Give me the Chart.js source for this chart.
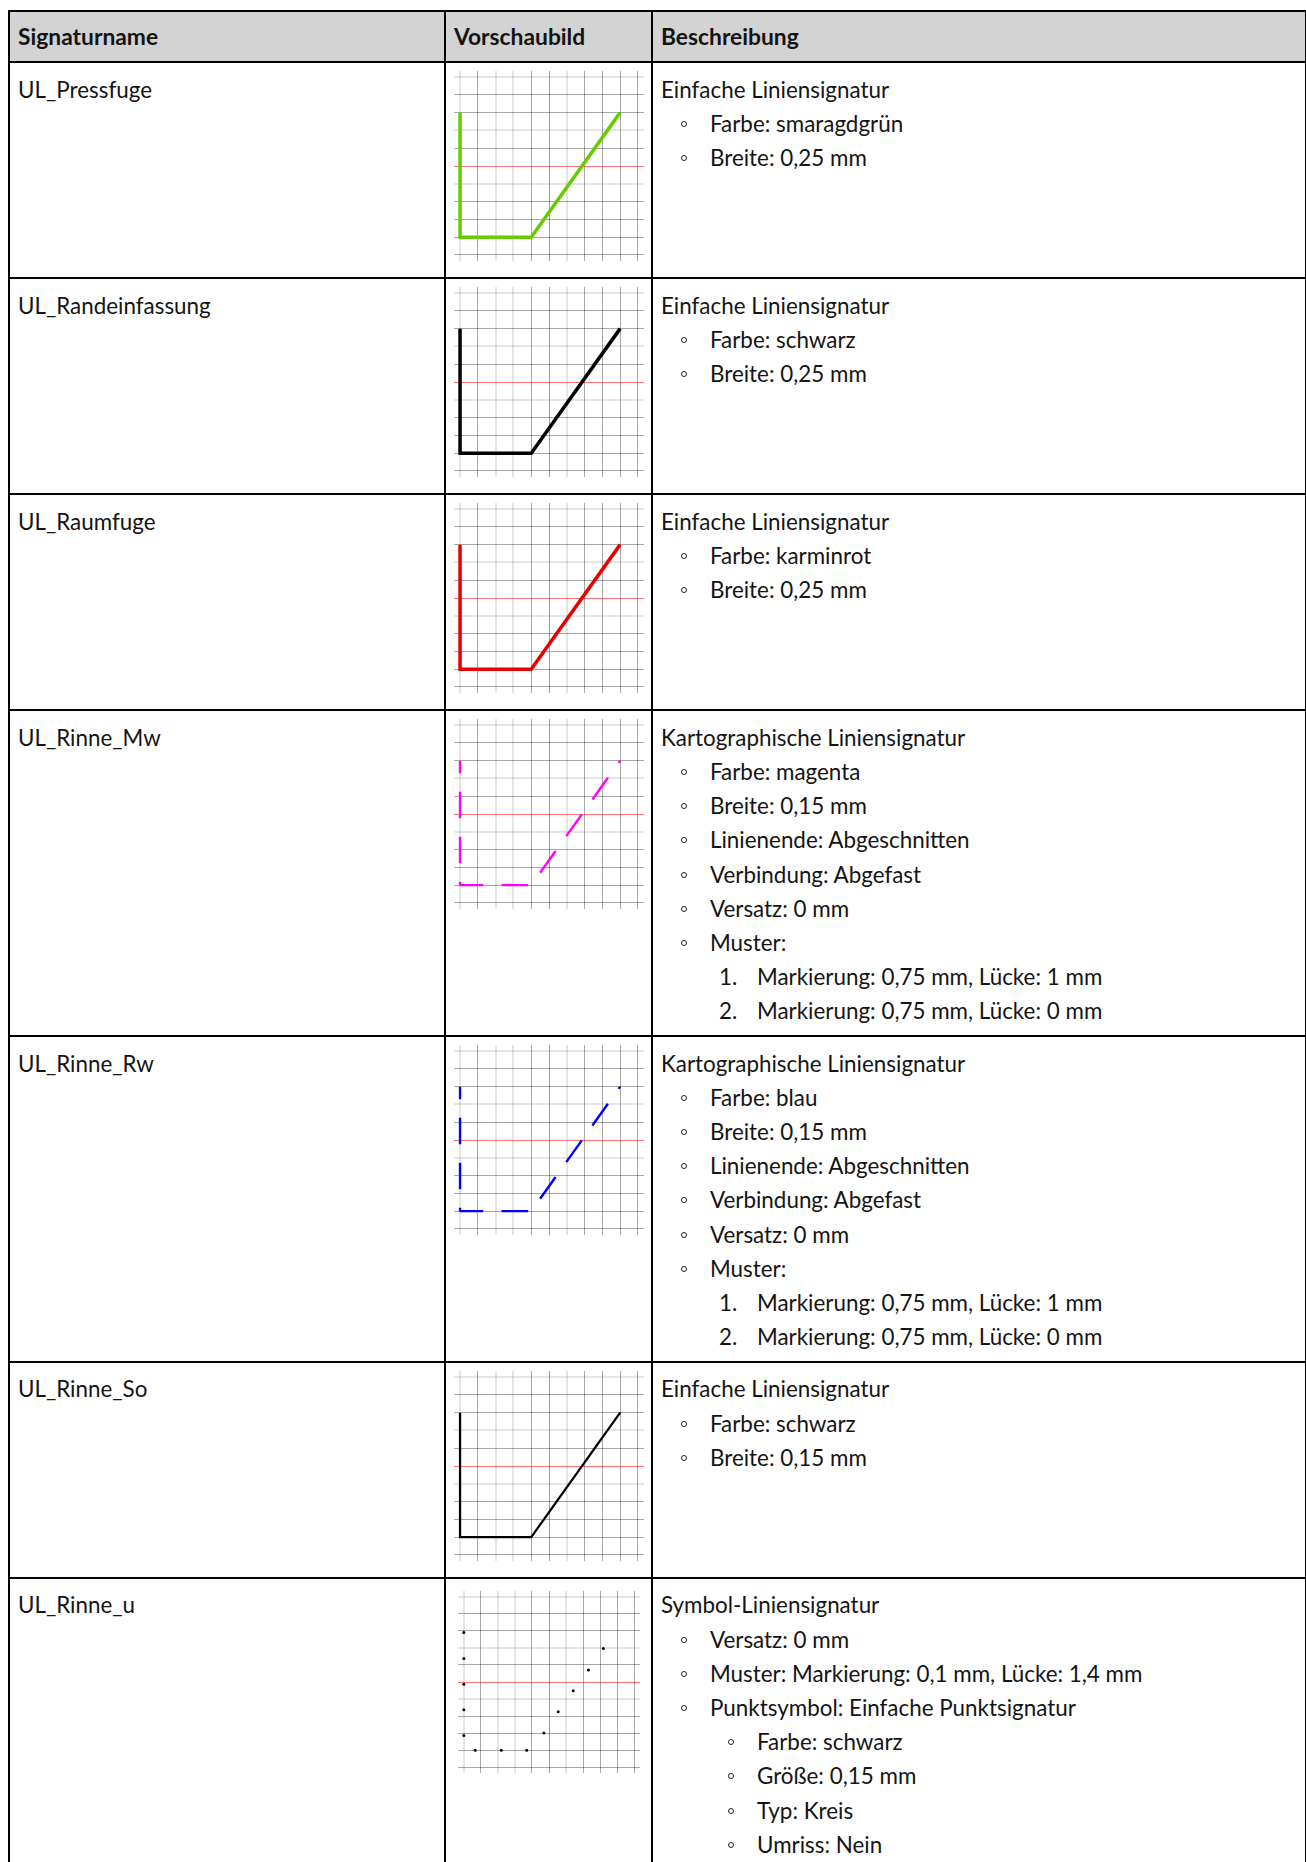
<!DOCTYPE html>
<html lang="de">
<head>
<meta charset="utf-8">
<title>Liniensignaturen</title>
<script src="https://cdn.jsdelivr.net/npm/chart.js@4.4.1/dist/chart.umd.min.js"></script>
<style>
  html, body { margin: 0; padding: 0; overflow: hidden; background: #fff; }
  body { width: 1306px; height: 1862px; position: relative;
         font-family: Lato, "Noto Sans", sans-serif; font-size: 22.4px; color: #141414; }
  table { position: absolute; left: 8px; top: 10px; width: 1299px;
          border-collapse: collapse; table-layout: fixed; }
  th, td { border: 2px solid #000; padding: 8px; vertical-align: top; text-align: left;
           line-height: 34.2px; white-space: nowrap; }
  th { background: #d3d3d3; font-weight: bold; font-size: 22.8px; padding: 7px 8px 8px 8px; }
  .txt { position: relative; top: 1.5px; }
  .prev { position: relative; height: 198px; }
  .prev canvas { position: absolute; left: 0; top: 0; }
  .ln { position: relative; }
  .l1 { padding-left: 49px; }
  .l2, .num { padding-left: 96px; }
  .bul { position: absolute; top: 14px; width: 4px; height: 4px;
         border: 1px solid #222; border-radius: 50%; }
  .l1 .bul { left: 20px; }
  .l2 .bul { left: 67px; }
  .num .nr { position: absolute; left: 58px; top: 0; }
</style>
</head>
<body>
<table id="tab">
  <colgroup><col style="width:436px"><col style="width:207px"><col style="width:654px"></colgroup>
  <thead><tr><th>Signaturname</th><th>Vorschaubild</th><th>Beschreibung</th></tr></thead>
  <tbody id="rows"></tbody>
</table>
<script>
// Signaturnamen
const names = ['UL_Pressfuge', 'UL_Randeinfassung', 'UL_Raumfuge', 'UL_Rinne_Mw',
               'UL_Rinne_Rw', 'UL_Rinne_So', 'UL_Rinne_u'];

// Linienverlauf der Vorschau (Rasterkoordinaten, Mitte = 0/0)
const pathX = [-5, -5, -1, 4];
const pathY = [3, -4, -4, 3];

// Punkte der Symbol-Liniensignatur
const dotsX = [-5, -5, -5, -5, -5, -4.33, -2.8, -1.31, -0.3, 0.54, 1.42, 2.31, 3.19];
const dotsY = [2.9, 1.38, -0.13, -1.63, -3.14, -4, -4, -4, -2.99, -1.74, -0.52, 0.71, 1.96];

// Rasterlinien
const gridTicks = [-5, -4, -3, -2, -1, 0, 1, 2, 3, 4, 5];

// Beschreibungen: [ebene, text]  ebene 0 = Titel, 1 = Punkt, 'n.' = Nummer, 2 = Unterpunkt
const descriptions = [
  [[0, 'Einfache Liniensignatur'], [1, 'Farbe: smaragdgrün'], [1, 'Breite: 0,25 mm']],
  [[0, 'Einfache Liniensignatur'], [1, 'Farbe: schwarz'], [1, 'Breite: 0,25 mm']],
  [[0, 'Einfache Liniensignatur'], [1, 'Farbe: karminrot'], [1, 'Breite: 0,25 mm']],
  [[0, 'Kartographische Liniensignatur'], [1, 'Farbe: magenta'], [1, 'Breite: 0,15 mm'],
   [1, 'Linienende: Abgeschnitten'], [1, 'Verbindung: Abgefast'], [1, 'Versatz: 0 mm'], [1, 'Muster:'],
   ['1.', 'Markierung: 0,75 mm, Lücke: 1 mm'], ['2.', 'Markierung: 0,75 mm, Lücke: 0 mm']],
  [[0, 'Kartographische Liniensignatur'], [1, 'Farbe: blau'], [1, 'Breite: 0,15 mm'],
   [1, 'Linienende: Abgeschnitten'], [1, 'Verbindung: Abgefast'], [1, 'Versatz: 0 mm'], [1, 'Muster:'],
   ['1.', 'Markierung: 0,75 mm, Lücke: 1 mm'], ['2.', 'Markierung: 0,75 mm, Lücke: 0 mm']],
  [[0, 'Einfache Liniensignatur'], [1, 'Farbe: schwarz'], [1, 'Breite: 0,15 mm']],
  [[0, 'Symbol-Liniensignatur'], [1, 'Versatz: 0 mm'], [1, 'Muster: Markierung: 0,1 mm, Lücke: 1,4 mm'],
   [1, 'Punktsymbol: Einfache Punktsignatur'], [2, 'Farbe: schwarz'], [2, 'Größe: 0,15 mm'],
   [2, 'Typ: Kreis'], [2, 'Umriss: Nein']]
];

// Linienstil je Zeile
const styles = [
  { color: '#66cc00', width: 3.5 },
  { color: '#000000', width: 3.5 },
  { color: '#e60000', width: 3.5 },
  { color: '#ff00ff', width: 2.4, dash: [26.7, 18.3], offset: 14 },
  { color: '#0000ff', width: 2.4, dash: [26.7, 18.3], offset: 14 },
  { color: '#000000', width: 2.3 },
  { dots: true }
];

// helle Rasterlinien (nur Optik der Vorlage)
const lightX = [-5, -3, -2, 1];
const lightY = [5, 2, -1];

function descHtml(lines) {
  return lines.map(([lvl, txt]) => {
    if (lvl === 0) return `<div class="ln">${txt}</div>`;
    if (lvl === 1) return `<div class="ln l1"><span class="bul"></span>${txt}</div>`;
    if (lvl === 2) return `<div class="ln l2"><span class="bul"></span>${txt}</div>`;
    return `<div class="ln num"><span class="nr">${lvl}</span>${txt}</div>`;
  }).join('');
}

const tbody = document.getElementById('rows');
names.forEach((n, i) => {
  const tr = document.createElement('tr');
  tr.innerHTML = `<td><div class="txt">${n}</div></td>` +
                 `<td><div class="prev"><canvas width="190" height="190"></canvas></div></td>` +
                 `<td><div class="txt">${descHtml(descriptions[i])}</div></td>`;
  tbody.appendChild(tr);
});

function axis(light) {
  return {
    type: 'linear', min: -5.34, max: 5.34,
    afterBuildTicks: s => { s.ticks = gridTicks.map(v => ({ value: v })); },
    ticks: { display: false },
    border: { display: false },
    grid: {
      drawTicks: false,
      color: c => {
        const v = c.tick ? c.tick.value : null;
        if (v === 0) return 'rgba(255,0,0,0.55)';
        return light.includes(v) ? 'rgba(0,0,0,0.10)' : 'rgba(0,0,0,0.34)';
      },
      lineWidth: c => (c.tick && light.includes(c.tick.value) && c.tick.value !== 0) ? 2 : 1
    }
  };
}

document.querySelectorAll('.prev canvas').forEach((cv, i) => {
  const st = styles[i];
  let ds;
  if (st.dots) {
    ds = {
      data: dotsX.map((x, k) => ({ x, y: dotsY[k] })),
      showLine: false, pointRadius: 1.5, pointBackgroundColor: '#000', pointBorderWidth: 0
    };
  } else {
    ds = {
      data: pathX.map((x, k) => ({ x, y: pathY[k] })),
      showLine: true, pointRadius: 0, borderColor: st.color, borderWidth: st.width,
      borderDash: st.dash || [], borderDashOffset: st.offset || 0,
      borderCapStyle: 'butt', borderJoinStyle: st.dash ? 'bevel' : 'miter'
    };
  }
  new Chart(cv, {
    type: 'scatter',
    data: { datasets: [ds] },
    options: {
      responsive: false, animation: false, events: [],
      layout: { padding: 0 },
      plugins: { legend: { display: false }, tooltip: { enabled: false } },
      scales: { x: axis(lightX), y: axis(lightY) }
    }
  });
});
</script>
</body>
</html>
